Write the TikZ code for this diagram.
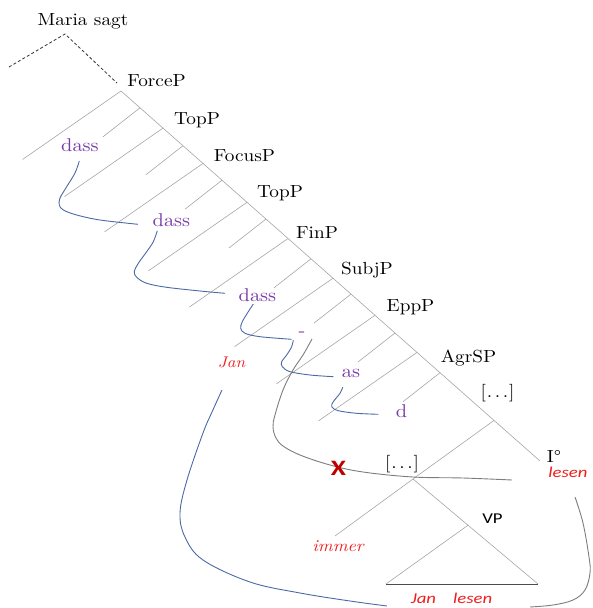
\documentclass[tikz,border=0pt]{standalone}
\usepackage{fontspec}
\setmainfont{lmroman10-regular}[Extension=.otf, ItalicFont=lmroman10-italic, BoldFont=lmroman10-bold, FakeStretch=1.1]
\newfontfamily\calfont{Carlito}[FakeStretch=1.25]
\definecolor{treegray}{RGB}{165,165,165}
\definecolor{curvegray}{RGB}{125,125,125}
\definecolor{bluec}{RGB}{75,105,165}
\definecolor{purp}{RGB}{120,60,170}
\definecolor{redt}{RGB}{240,30,30}
\definecolor{xred}{RGB}{190,0,0}
\newcommand{\brdots}{[\kern1pt.\kern2.6pt.\kern2.6pt.\kern1pt]}
\tikzset{
  tree/.style={draw=treegray, line width=0.6pt},
  basel/.style={draw=black!70, line width=0.7pt},
  dotline/.style={draw=black!80, line width=0.8pt, dash pattern=on 3pt off 2.2pt},
  bluecurve/.style={draw=bluec, line width=0.9pt},
  graycurve/.style={draw=curvegray, line width=0.9pt},
  lbl/.style={inner sep=0pt, anchor=base, font=\fontsize{17.5}{20}\selectfont},
  mv/.style={lbl, text=purp, font=\fontsize{18.5}{21}\selectfont},
  rit/.style={lbl, text=redt, font=\fontsize{16.5}{19}\selectfont\itshape},
  sit/.style={lbl, text=redt, font=\calfont\fontsize{15}{18}\selectfont\itshape},
  vpst/.style={lbl, font=\calfont\fontsize{15}{18}\selectfont},
  xm/.style={inner sep=0pt, text=xred, font=\calfont\fontsize{22}{24}\selectfont\bfseries}
}
\begin{document}
\begin{tikzpicture}[x=1pt,y=-1pt]
\useasboundingbox (0,0) rectangle (592,608);

% ---- labels
\node[lbl] (maria) at (83,25) {Maria sagt};
\node[lbl] (forcep) at (156.5,86) {ForceP};
\node[lbl] (topp1) at (197,124) {TopP};
\node[lbl] (focusp) at (244.5,161) {FocusP};
\node[lbl] (topp2) at (280,197) {TopP};
\node[lbl] (finp) at (317,238) {FinP};
\node[lbl] (subjp) at (367,274) {SubjP};
\node[lbl] (eppp) at (410.5,311) {EppP};
\node[lbl] (agrsp) at (468.5,362) {AgrSP};
\node[lbl] (dotsA) at (497.5,397) {\brdots};
\node[lbl] (ideg) at (554,462.5) {I°};
\node[sit] (lesenI) at (568,477.5) {lesen};
\node[lbl] (dotsB) at (402,468) {\brdots};
\node[vpst] (vp) at (492.5,523) {VP};
\node[rit] (immer) at (338,551) {immer};
\node[sit] (janlesen) at (451.5,603) {Jan\hspace{17pt}lesen};
\node[rit, font=\fontsize{15.5}{18}\selectfont\itshape] (jan) at (231.5,367) {Jan};
\node[mv] (dass1) at (80,151) {dass};
\node[mv] (dass2) at (171.5,226) {dass};
\node[mv] (dass3) at (257.5,301) {dass};
\node[mv] (hyph) at (302,336) {-};
\node[mv] (as) at (351,377) {as};
\node[mv] (d) at (401.5,417) {d};

% ---- dashed roof
\coordinate (mtop) at (65,34);
\coordinate (mleft) at (9,67);
\coordinate (mright) at (117,83);
\draw[dotline] (mleft) -- (mtop) -- (mright);

% ---- spine
\coordinate (top) at (121,91);
\coordinate (iend) at (540,461);
\draw[tree] (top) -- (iend);
\foreach \x/\y [count=\i] in {121/91, 163/128.1, 203/163.4, 247/202.3, 288/238.5, 333/278.2, 375/315.3, 417/352.4}
  { \coordinate (xp\i) at (\x,\y); \draw[tree] (xp\i) -- ++(-98.5,68.5); }
\foreach \x/\y [count=\i] in {140/107.8, 183/145.7, 222/180.2, 266/219.0, 311/258.8, 351/294.1, 395/333.0, 440/372.7}
  { \coordinate (hd\i) at (\x,\y); \draw[tree] (hd\i) -- ++(-37,29); }

% ---- lower part
\coordinate (br) at (494,420.4);
\coordinate (lo) at (413,479);
\coordinate (imend) at (335,536);
\coordinate (vpa) at (468,525.2);
\coordinate (vpl) at (386,584);
\coordinate (vpr) at (538,584);
\draw[tree] (br) -- (lo) -- (imend);
\draw[tree] (lo) -- (vpr);
\draw[tree] (vpa) -- (vpl);
\draw[basel] (vpl) -- (vpr);

% ---- blue movement curves
\draw[bluecurve] plot[smooth, tension=0.55] coordinates {(79.3,161) (75,173) (66.7,186.7) (60,198) (59.3,205) (63.3,210) (76.7,215) (100,220) (138,224.3)};
\draw[bluecurve] plot[smooth, tension=0.55] coordinates {(157.3,230.7) (153.3,241.7) (146.7,251.7) (138.3,263.3) (134.3,271.7) (136.7,277.3) (146.7,283.3) (166.7,287.3) (200,291) (225,293.3)};
\draw[bluecurve] plot[smooth, tension=0.55] coordinates {(253.3,304) (248.3,311.7) (242.3,321.7) (240.7,328.3) (245,333.3) (260,336.7) (291.7,339.3)};
\draw[bluecurve] plot[smooth, tension=0.55] coordinates {(293.3,340) (291.7,346.7) (286.7,355) (281.7,361.7) (282.3,366.7) (290,371.7) (310,375) (333.3,376.7)};
\draw[bluecurve] plot[smooth, tension=0.55] coordinates {(342.7,387.3) (340,393.3) (333.3,401.7) (331.7,406.7) (338.3,410.7) (356.7,413.3) (378.3,414.3)};
\draw[bluecurve] plot[smooth, tension=0.6] coordinates {(222,390) (212,412) (203,433) (187,480) (180,513) (185,537) (203,560) (250,582) (300,593) (350,601) (387,606)};

% ---- gray curves
\draw[graycurve] plot[smooth, tension=0.6] coordinates {(312,339) (303,355) (293,370) (283,390) (275,415) (273,427) (276,438) (283,446) (300,455) (330,465) (363,472) (413,477) (463,478) (512,480)};
\draw[graycurve] plot[smooth, tension=0.6] coordinates {(575,497) (583,523) (589,557) (590,573) (585,590) (573,600) (553,605) (530,607)};

\node[xm] (xmark) at (338.5,468) {X};
\end{tikzpicture}
\end{document}
